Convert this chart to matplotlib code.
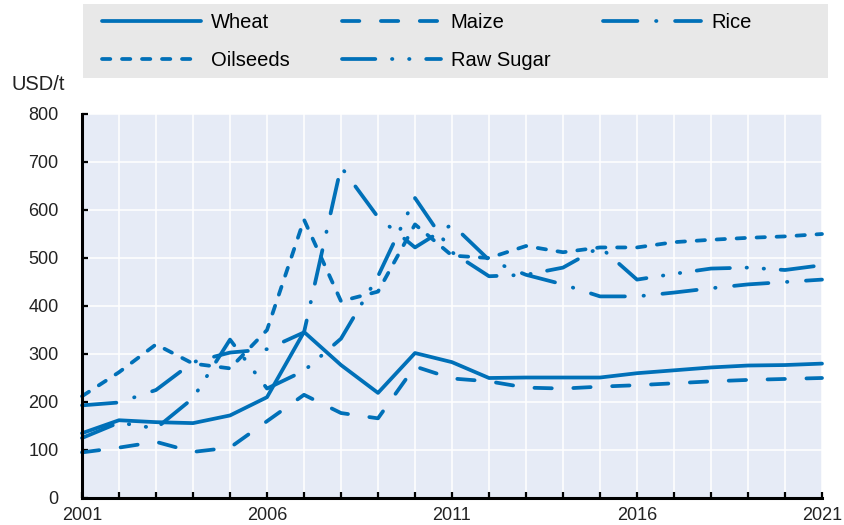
import numpy as np
import matplotlib
matplotlib.use("Agg")
import matplotlib.pyplot as plt
from matplotlib.patches import Rectangle

# world prices, USD/t
years = list(range(2001, 2022))
wheat = [135, 162, 158, 156, 172, 210, 346, 277, 219, 302, 283, 250, 251, 251, 251, 260, 266, 272, 276, 277, 280]
maize = [95, 105, 117, 96, 105, 160, 215, 177, 166, 274, 249, 243, 230, 228, 232, 235, 239, 243, 246, 248, 250]
rice = [193, 199, 225, 283, 303, 310, 345, 690, 585, 522, 570, 496, 465, 445, 420, 420, 428, 437, 445, 450, 455]
oilseeds = [212, 262, 320, 280, 270, 350, 580, 410, 430, 570, 505, 500, 525, 512, 522, 522, 533, 538, 542, 545, 550]
raw_sugar = [125, 157, 145, 208, 330, 228, 265, 332, 462, 625, 512, 462, 465, 480, 523, 455, 467, 478, 480, 475, 485]

series_names = ["Wheat", "Maize", "Rice", "Oilseeds", "Raw Sugar"]
year_labels = ["2001", "2006", "2011", "2016", "2021"]

plt.rcParams["font.family"] = ["Liberation Sans", "DejaVu Sans"]
plt.rcParams["lines.scale_dashes"] = False

blue = "#0070b8"
lw = 2.7

fig = plt.figure(figsize=(8.45, 5.25), dpi=100)
ax = fig.add_axes([82 / 845, 1 - 498 / 525, 740 / 845, 384 / 525])
ax.set_facecolor("#e6ebf6")

# line styles per series
styles = {
    "Wheat": dict(linestyle="-"),
    "Maize": dict(linestyle=(0, (12.5, 15.5))),
    "Rice": dict(linestyle=(0, (24.8, 13.4, 0.3, 13.4))),
    "Oilseeds": dict(linestyle=(0, (6.0, 8.4))),
    "Raw Sugar": dict(linestyle=(0, (24.0, 12.0, 0.3, 12.0, 0.3, 12.0))),
}
data = {"Wheat": wheat, "Maize": maize, "Rice": rice, "Oilseeds": oilseeds, "Raw Sugar": raw_sugar}

handles = []
for name in series_names:
    h, = ax.plot(years, data[name], color=blue, linewidth=lw, label=name,
                 dash_capstyle="round", solid_capstyle="round", solid_joinstyle="round",
                 clip_on=False, **styles[name])
    handles.append(h)

ax.set_xlim(2001, 2021)
ax.set_ylim(0, 800)
ax.set_xticks(years)
ax.set_xticklabels([str(y) if str(y) in year_labels else "" for y in years])
ax.set_yticks(range(0, 801, 100))

ax.grid(True, color="white", linewidth=1.1)
ax.set_axisbelow(True)
for s in ["top", "right"]:
    ax.spines[s].set_visible(False)
for s in ["left", "bottom"]:
    ax.spines[s].set_linewidth(2.2)
    ax.spines[s].set_color("black")

ax.tick_params(axis="x", direction="in", length=4, width=1.6, pad=6.5, labelsize=13, color="black")
ax.tick_params(axis="y", direction="in", length=4, width=1.6, pad=17, labelsize=13, color="black")
for lab in ax.get_xticklabels() + ax.get_yticklabels():
    lab.set_color("#222222")

# grey legend band
fig.patches.append(Rectangle((83 / 845, 1 - 78 / 525), 745 / 845, 74 / 525,
                             transform=fig.transFigure, facecolor="#e8e8e8",
                             edgecolor="none", zorder=0))
order = [0, 3, 1, 4, 2]
fig.legend([handles[i] for i in order], [series_names[i] for i in order],
           loc="upper left", bbox_to_anchor=(102 / 845, 1 - 13 / 525),
           ncol=3, frameon=False, fontsize=14.5, handlelength=4.9,
           handletextpad=0.5, columnspacing=2.6, labelspacing=0.95,
           borderpad=0, borderaxespad=0)

fig.text(12 / 845, 1 - 85 / 525, "USD/t", fontsize=14.5, va="center", ha="left", color="#222222")

fig.savefig("out.png", dpi=100)
